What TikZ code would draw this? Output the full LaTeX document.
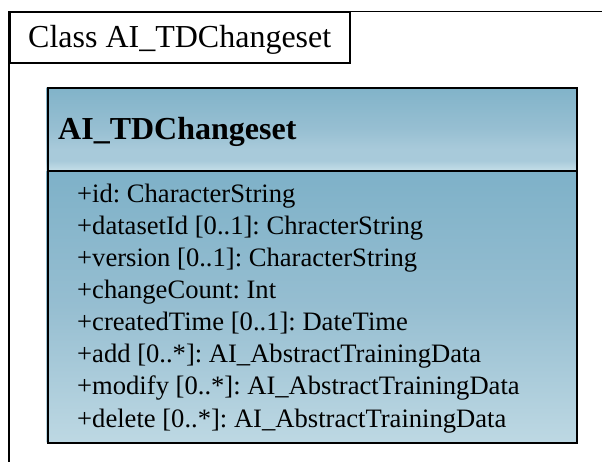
\documentclass[tikz,border=0pt]{standalone}
\usepackage{fontspec}
\setmainfont{Liberation Serif}
\frenchspacing
\definecolor{hTop}{HTML}{81B3C9}
\definecolor{hMid}{HTML}{97BFD2}
\definecolor{hLow}{HTML}{A8CADA}
\definecolor{hBot}{HTML}{C4DEE8}
\definecolor{aTop}{HTML}{7EB1C8}
\definecolor{aMid}{HTML}{96BED1}
\definecolor{aBot}{HTML}{BDD8E3}
% vertical fills for the class compartments (path spans 25bp..75bp)
\pgfdeclareverticalshading{headfill}{100bp}{color(0bp)=(hBot); color(25bp)=(hBot); color(31bp)=(hLow); color(38bp)=(hLow); color(50bp)=(hMid); color(75bp)=(hTop); color(100bp)=(hTop)}
\pgfdeclareverticalshading{attrfill}{100bp}{color(0bp)=(aBot); color(25bp)=(aBot); color(50bp)=(aMid); color(75bp)=(aTop); color(100bp)=(aTop)}
\tikzset{
  frameline/.style={line width=1.8pt, black},
  boxline/.style={line width=1.8pt, black},
  attr/.style={anchor=base west, inner sep=0pt, font=\fontsize{26.6}{26.6}\selectfont},
}
\begin{document}
\begin{tikzpicture}[x=1pt, y=-1pt]
\useasboundingbox (0,0) rectangle (602,462);
% package frame
\draw[frameline] (8.7,470) -- (8.7,11.5) -- (610,11.5);
\node[draw, frameline, minimum width=340.5pt, minimum height=51pt, inner sep=0pt, anchor=north west]
  (tab) at (8.7,11.5) {};
\node[anchor=base west, inner sep=0pt, font=\fontsize{32}{32}\selectfont] (tabtext) at (28,48) {Class AI\_TDChangeset};
% class box: shadow, fills, outline
\fill[black!55] (48.5,89.5) rectangle (578,444);
\shade[shading=headfill] (46.7,87.5) rectangle (576,170.5);
\shade[shading=attrfill] (46.7,170.5) rectangle (576,442);
\node[draw, boxline, minimum width=529.3pt, minimum height=83pt, inner sep=0pt, anchor=north west] (head) at (46.7,87.5) {};
\node[draw, boxline, minimum width=529.3pt, minimum height=271.5pt, inner sep=0pt, anchor=north west] (attrs) at (46.7,170.5) {};
\node[anchor=base west, inner sep=0pt, font=\bfseries\fontsize{32}{32}\selectfont] (cname) at (58,140) {AI\_TDChangeset};
% attributes
\node[attr] (a1) at (77,202.3) {+id: CharacterString};
\node[attr] (a2) at (77,234.4) {+datasetId [0..1]: ChracterString};
\node[attr] (a3) at (77,266.5) {+version [0..1]: CharacterString};
\node[attr] (a4) at (77,298.6) {+changeCount: Int};
\node[attr] (a5) at (77,330.7) {+createdTime [0..1]: DateTime};
\node[attr] (a6) at (77,362.8) {+add [0..*]: AI\_AbstractTrainingData};
\node[attr] (a7) at (77,394.9) {+modify [0..*]: AI\_AbstractTrainingData};
\node[attr] (a8) at (77,427) {+delete [0..*]: AI\_AbstractTrainingData};
\end{tikzpicture}
\end{document}
